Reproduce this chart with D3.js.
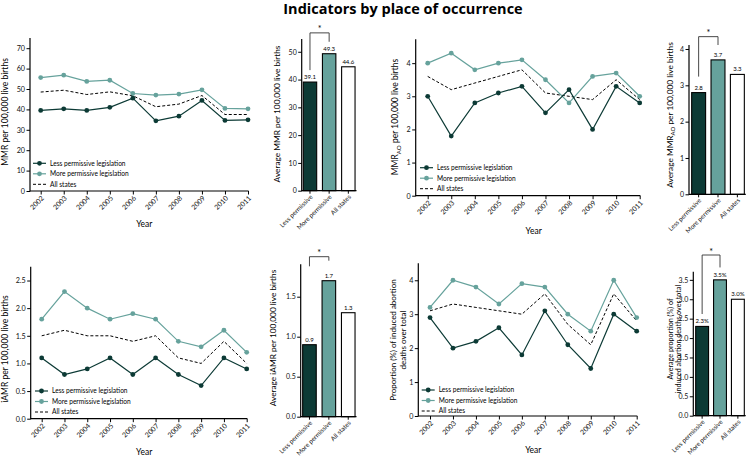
<!DOCTYPE html>
<html><head><meta charset="utf-8">
<script src="https://cdn.jsdelivr.net/npm/d3@7"></script>
<style>body{margin:0;background:#fff} svg{font-family:Lato,"Open Sans",sans-serif}</style>
</head><body>
<svg id="c" width="748" height="460"></svg>
<script>
// ---------- DATA ----------
const years = [2002, 2003, 2004, 2005, 2006, 2007, 2008, 2009, 2010, 2011];
const mmrLess = [39.5, 40.3, 39.5, 41.0, 45.5, 34.4, 36.7, 44.4, 34.6, 34.9];
const mmrMore = [55.6, 56.8, 53.7, 54.3, 47.8, 47.0, 47.5, 49.6, 40.5, 40.3];
const mmrAll  = [48.5, 49.4, 47.3, 48.6, 46.7, 41.3, 42.6, 46.8, 37.5, 37.5];
const aoLess  = [3.0, 1.8, 2.8, 3.1, 3.3, 2.5, 3.2, 2.0, 3.3, 2.8];
const aoMore  = [4.0, 4.3, 3.8, 4.0, 4.1, 3.5, 2.8, 3.6, 3.7, 3.0];
const aoAll   = [3.6, 3.2, 3.4, 3.6, 3.8, 3.1, 3.0, 2.9, 3.5, 2.9];
const iamrLess = [1.1, 0.8, 0.9, 1.1, 0.8, 1.1, 0.8, 0.6, 1.1, 0.9];
const iamrMore = [1.8, 2.3, 2.0, 1.8, 1.9, 1.8, 1.4, 1.3, 1.6, 1.2];
const iamrAll  = [1.5, 1.6, 1.5, 1.5, 1.4, 1.5, 1.1, 1.0, 1.4, 1.0];
const propLess = [2.9, 2.0, 2.2, 2.6, 1.8, 3.1, 2.1, 1.4, 3.0, 2.5];
const propMore = [3.2, 4.0, 3.8, 3.3, 3.9, 3.8, 3.0, 2.5, 4.0, 2.9];
const propAll  = [3.1, 3.3, 3.2, 3.1, 3.0, 3.6, 2.7, 2.1, 3.6, 2.8];

const barCategories = ["Less permissive", "More permissive", "All states"];
const mmrAvg  = [39.1, 49.3, 44.6];
const aoAvg   = [2.8, 3.7, 3.3];
const iamrAvg = [0.9, 1.7, 1.3];
const propAvg = [2.3, 3.5, 3.0];

const legendLabels = ["Less permissive legislation", "More permissive legislation", "All states"];
const mmrTicks  = [0, 10, 20, 30, 40, 50, 60, 70];
const aoTicks   = [0, 1, 2, 3, 4];
const iamrTicks = [0, 0.5, 1.0, 1.5, 2.0, 2.5];
const propTicks = [0, 1, 2, 3, 4];
const mmrBarTicks  = [0, 10, 20, 30, 40, 50];
const aoBarTicks   = [0, 1, 2, 3, 4];
const iamrBarTicks = [0, 0.5, 1.0, 1.5];
const propBarTicks = [0, 0.5, 1.0, 1.5, 2.0, 2.5, 3.0, 3.5];

// ---------- STYLE ----------
const cLess = "#0c3a35", cMore = "#66a29c";
const svg = d3.select("#c");
svg.append("rect").attr("width", 748).attr("height", 460).attr("fill", "#fff");

svg.append("text").attr("x", 403).attr("y", 13.5).attr("text-anchor", "middle")
  .attr("font-family", "'Open Sans',sans-serif").attr("font-weight", "bold").attr("font-size", 14.5)
  .text("Indicators by place of occurrence");

function yTitle(x, y, lines, size, gap) {
  const t = svg.append("g").attr("transform", `translate(${x},${y}) rotate(-90)`);
  lines.forEach((parts, i) => {
    const tx = t.append("text").attr("text-anchor", "middle").attr("font-size", size)
      .attr("y", (i - (lines.length - 1) / 2) * gap).attr("dy", "0.35em");
    let shifted = false;
    parts.forEach(p => {
      if (typeof p === "string") {
        const ts = tx.append("tspan").text(p);
        if (shifted) { ts.attr("dy", -size * 0.3); shifted = false; }
      } else {
        tx.append("tspan").attr("dy", size * 0.3).attr("font-size", size * 0.72).text(p.sub);
        shifted = true;
      }
    });
  });
}

function styleAxis(a) {
  a.select(".domain").remove();
  a.selectAll(".tick line").attr("stroke", "#000").attr("stroke-width", 1);
  a.selectAll(".tick text").attr("font-family", "Lato,sans-serif").attr("fill", "#111");
}

function linePanel(cfg) {
  const x = d3.scalePoint().domain(years).range([cfg.xFirst, cfg.xLast]);
  const y = d3.scaleLinear().domain([0, cfg.ymax]).range([cfg.y0, cfg.yTop]);
  const g = svg.append("g");
  const ya = g.append("g").attr("transform", `translate(${cfg.x0},0)`)
    .call(d3.axisLeft(y).tickValues(cfg.ticks).tickFormat(cfg.fmt).tickSize(3.5).tickPadding(1.5));
  styleAxis(ya); ya.selectAll(".tick text").attr("font-size", 7.2);
  const xa = g.append("g").attr("transform", `translate(0,${cfg.y0})`)
    .call(d3.axisBottom(x).tickSize(3.5).tickFormat(d3.format("d")));
  styleAxis(xa);
  xa.selectAll(".tick text").attr("font-size", 7).attr("text-anchor", "end")
    .attr("transform", "translate(1.5,6) rotate(-45)").attr("y", 0).attr("dy", "0.35em");
  g.append("line").attr("x1", cfg.x0).attr("x2", cfg.x0).attr("y1", cfg.y0 + 0.5).attr("y2", cfg.yTop)
    .attr("stroke", "#000").attr("stroke-width", 1.2);
  g.append("line").attr("x1", cfg.x0).attr("x2", cfg.xLast + 0.6).attr("y1", cfg.y0).attr("y2", cfg.y0)
    .attr("stroke", "#000").attr("stroke-width", 1.2);

  const line = d3.line().x((d, i) => x(years[i])).y(d => y(d));
  g.append("path").datum(cfg.all).attr("d", line).attr("fill", "none").attr("stroke", "#000")
    .attr("stroke-width", 1).attr("stroke-dasharray", "3,2");
  [[cfg.more, cMore], [cfg.less, cLess]].forEach(([s, c]) => {
    g.append("path").datum(s).attr("d", line).attr("fill", "none").attr("stroke", c).attr("stroke-width", 1.2);
    g.selectAll(null).data(s).enter().append("circle").attr("cx", (d, i) => x(years[i])).attr("cy", d => y(d))
      .attr("r", 2.4).attr("fill", c);
  });

  g.append("text").attr("x", (cfg.xFirst + cfg.xLast) / 2).attr("y", cfg.yearY).attr("text-anchor", "middle")
    .attr("font-size", 8.5).text("Year");

  // legend
  const colors = [cLess, cMore, "#000"];
  legendLabels.forEach((lab, i) => {
    const ly = cfg.legY + i * cfg.legGap;
    g.append("line").attr("x1", cfg.legX).attr("x2", cfg.legX + 13).attr("y1", ly).attr("y2", ly)
      .attr("stroke", colors[i]).attr("stroke-width", i < 2 ? 1.2 : 1).attr("stroke-dasharray", i < 2 ? null : "3,2");
    if (i < 2) g.append("circle").attr("cx", cfg.legX + 6.5).attr("cy", ly).attr("r", 2.4).attr("fill", colors[i]);
    g.append("text").attr("x", cfg.legX + 17).attr("y", ly).attr("dy", "0.35em").attr("font-size", 6.6).text(lab);
  });
  yTitle(cfg.tx, cfg.ty, cfg.title, cfg.tsize, cfg.tgap);
}

function barPanel(cfg) {
  const x = d3.scaleBand().domain(barCategories).range([cfg.b0, cfg.b1]).paddingInner(cfg.pin).paddingOuter(0.05);
  const y = d3.scaleLinear().domain([0, cfg.ymax]).range([cfg.y0, cfg.yTop]);
  const g = svg.append("g");
  const ya = g.append("g").attr("transform", `translate(${cfg.x0},0)`)
    .call(d3.axisLeft(y).tickValues(cfg.ticks).tickFormat(cfg.fmt).tickSize(3.5).tickPadding(1.5));
  styleAxis(ya); ya.selectAll(".tick text").attr("font-size", 7);
  const xa = g.append("g").attr("transform", `translate(0,${cfg.y0})`)
    .call(d3.axisBottom(x).tickSize(3));
  styleAxis(xa);
  xa.selectAll(".tick text").attr("font-size", 6.4).attr("text-anchor", "end")
    .attr("transform", "translate(1.5,5) rotate(-45)").attr("y", 0).attr("dy", "0.35em");
  const fills = [cLess, cMore, "#fff"];
  g.selectAll(null).data(cfg.values).enter().append("rect")
    .attr("x", (d, i) => x(barCategories[i])).attr("width", x.bandwidth())
    .attr("y", d => y(d)).attr("height", d => cfg.y0 - y(d))
    .attr("fill", (d, i) => fills[i]).attr("stroke", "#000").attr("stroke-width", 1.1);
  g.selectAll(null).data(cfg.values).enter().append("text")
    .attr("x", (d, i) => x(barCategories[i]) + x.bandwidth() / 2).attr("y", d => y(d) - 3)
    .attr("text-anchor", "middle").attr("font-size", 6).text(d => cfg.vfmt(d));
  g.append("line").attr("x1", cfg.x0).attr("x2", cfg.x0).attr("y1", cfg.y0 + 0.5).attr("y2", cfg.yTop)
    .attr("stroke", "#000").attr("stroke-width", 1.2);
  g.append("line").attr("x1", cfg.x0).attr("x2", cfg.b1 + 0.5).attr("y1", cfg.y0).attr("y2", cfg.y0)
    .attr("stroke", "#000").attr("stroke-width", 1.2);
  // significance bracket
  const xl = x(barCategories[0]) + x.bandwidth() / 2, xr = x(barCategories[1]) + x.bandwidth() / 2;
  const [bt, bl, br] = cfg.bracket;
  g.append("path").attr("d", `M${xl},${y(bl)}V${y(bt)}H${xr}V${y(br)}`).attr("fill", "none")
    .attr("stroke", "#333").attr("stroke-width", 0.9);
  g.append("text").attr("x", (xl + xr) / 2).attr("y", y(bt) - 0.5).attr("text-anchor", "middle")
    .attr("font-size", 9).text("*");
  yTitle(cfg.tx, cfg.ty, cfg.title, cfg.tsize, cfg.tgap);
}

const f0 = d3.format("d"), f1 = d3.format(".1f");

linePanel({x0: 30, y0: 191, yTop: 38, xFirst: 40.7, xLast: 248, ymax: 75, ticks: mmrTicks, fmt: f0,
  less: mmrLess, more: mmrMore, all: mmrAll, yearY: 226.5, legX: 33, legY: 163.3, legGap: 10.5,
  tx: 5.5, ty: 112, title: [["MMR per 100,000 live births"]], tsize: 8.5, tgap: 10});
linePanel({x0: 415.7, y0: 195.7, yTop: 39.3, xFirst: 427.7, xLast: 639.7, ymax: 4.72, ticks: aoTicks, fmt: f0,
  less: aoLess, more: aoMore, all: aoAll, yearY: 233.5, legX: 420, legY: 167.7, legGap: 10.5,
  tx: 395, ty: 117, title: [["MMR", {sub: "AO"}, " per 100,000 live births"]], tsize: 8.5, tgap: 10});
linePanel({x0: 30.7, y0: 418.7, yTop: 266.7, xFirst: 41.7, xLast: 246.7, ymax: 2.75, ticks: iamrTicks, fmt: f1,
  less: iamrLess, more: iamrMore, all: iamrAll, yearY: 454.5, legX: 35, legY: 391, legGap: 10.5,
  tx: 5.5, ty: 349, title: [["iAMR per 100,000 live births"]], tsize: 8.5, tgap: 10});
linePanel({x0: 418.3, y0: 416, yTop: 263.3, xFirst: 430, xLast: 636.7, ymax: 4.5, ticks: propTicks, fmt: f0,
  less: propLess, more: propMore, all: propAll, yearY: 452.5, legX: 421.7, legY: 390, legGap: 10.5,
  tx: 398, ty: 340, title: [["Proportion (%) of induced abortion"], ["deaths over total"]], tsize: 8, tgap: 10});

barPanel({x0: 301.7, b0: 302.3, b1: 356, pin: 0.3, y0: 190.7, yTop: 39, ymax: 54.6, ticks: mmrBarTicks, fmt: f0,
  values: mmrAvg, vfmt: f1, bracket: [56.8, 43.4, 53.6],
  tx: 277, ty: 114, title: [["Average MMR per 100,000 live births"]], tsize: 8.3, tgap: 10});
barPanel({x0: 689, b0: 690.7, b1: 745.3, pin: 0.28, y0: 194.3, yTop: 45, ymax: 4.11, ticks: aoBarTicks, fmt: f0,
  values: aoAvg, vfmt: f1, bracket: [4.34, 3.24, 4.11],
  tx: 670, ty: 115, title: [["Average MMR", {sub: "AO"}, " per 100,000 live births"]], tsize: 8.3, tgap: 10});
barPanel({x0: 300.7, b0: 301.7, b1: 356, pin: 0.3, y0: 416.7, yTop: 264.3, ymax: 1.905, ticks: iamrBarTicks, fmt: f1,
  values: iamrAvg, vfmt: f1, bracket: [2.0, 1.88, 1.95],
  tx: 273, ty: 338, title: [["Average iAMR per 100,000 live births"]], tsize: 8.3, tgap: 10});
barPanel({x0: 693.3, b0: 694.8, b1: 745.2, pin: 0.28, y0: 415.7, yTop: 271.7, ymax: 3.71, ticks: propBarTicks, fmt: f1,
  values: propAvg, vfmt: d => f1(d) + "%", bracket: [4.14, 2.62, 3.82],
  tx: 674, ty: 339, title: [["Average proportion (%) of"], ["induced abortion deaths over total"]], tsize: 7.2, tgap: 8});
</script>
</body></html>
